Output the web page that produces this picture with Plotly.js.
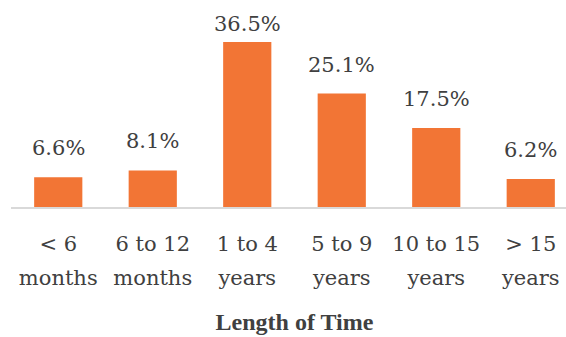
<!DOCTYPE html>
<html>
<head>
<meta charset="utf-8">
<script src="https://cdn.plot.ly/plotly-3.0.1.min.js"></script>
<style>
  html, body { margin: 0; padding: 0; background: #ffffff; overflow: hidden; }
  #wrap { width: 566px; height: 337px; overflow: hidden; }
  #chart { width: 578px; height: 337px; }
</style>
</head>
<body>
<div id="wrap"><div id="chart"></div></div>
<script>
// Share of respondents by length of time
const categories = [
  "&lt; 6<br>months",
  "6 to 12<br>months",
  "1 to 4<br>years",
  "5 to 9<br>years",
  "10 to 15<br>years",
  "&gt; 15<br>years"
];
const shares = [6.6, 8.1, 36.5, 25.1, 17.5, 6.2];
const axisTitle = "Length of Time";

const bodyFont = "'DejaVu Serif', serif";
const titleFont = "'Liberation Serif', 'Times New Roman', serif";
const textColor = "#404040";

const W = 578, H = 337;
const margin = { l: 11, r: 0, t: 0, b: 130 };
const yMax = 45.8;

// value labels sit above each bar, pulled down only where they would
// run off the top of the plot
const plotH = H - margin.t - margin.b;
const labelShift = shares.map(v => {
  const topPx = plotH - v * plotH / yMax;
  return Math.max(0, Math.min(15, topPx - 38));
});
const valueLabels = shares.map((v, i) => ({
  x: categories[i],
  y: v,
  xref: "x",
  yref: "y",
  text: v.toFixed(1) + "%",
  showarrow: false,
  yanchor: "bottom",
  yshift: labelShift[i],
  font: { family: bodyFont, size: 21, color: textColor }
}));

const trace = {
  type: "bar",
  x: categories,
  y: shares,
  width: 0.51,
  marker: { color: "#F27535" },
  hoverinfo: "skip"
};

const layout = {
  width: W,
  height: H,
  font: { family: bodyFont, color: textColor },
  margin: Object.assign({ autoexpand: false }, margin),
  paper_bgcolor: "#ffffff",
  plot_bgcolor: "#ffffff",
  showlegend: false,
  annotations: valueLabels,
  xaxis: {
    type: "category",
    range: [-0.5, 5.5],
    showline: true,
    linecolor: "#D9D9D9",
    linewidth: 2,
    showgrid: false,
    zeroline: false,
    ticks: "",
    ticklabelstandoff: 17,
    tickfont: { family: bodyFont, size: 21, color: textColor },
    title: {
      text: axisTitle,
      font: { family: titleFont, size: 24, color: textColor, weight: "bold" },
      standoff: 31
    },
    automargin: true,
    fixedrange: true
  },
  yaxis: {
    range: [0, yMax],
    visible: false,
    showgrid: false,
    zeroline: false,
    fixedrange: true
  }
};

Plotly.newPlot("chart", [trace], layout, { displayModeBar: false, staticPlot: true })
  .then(gd => {
    // open up the spacing between the two lines of each category label
    gd.querySelectorAll(".xtick text tspan.line").forEach(t => {
      if (t.getAttribute("dy") && t.getAttribute("dy") !== "0em") {
        t.setAttribute("dy", "1.62em");
      }
    });
  });
</script>
</body>
</html>
